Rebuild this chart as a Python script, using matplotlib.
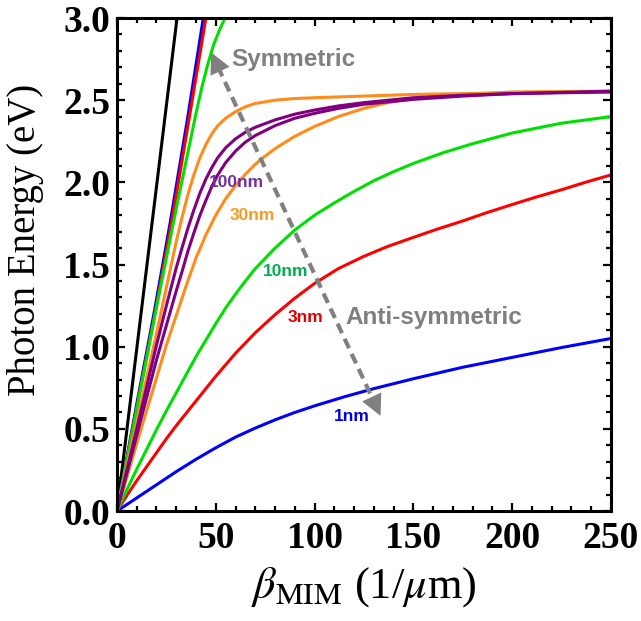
import numpy as np
import matplotlib
matplotlib.use("Agg")
from matplotlib import pyplot as plt
from matplotlib.ticker import MultipleLocator, FormatStrFormatter

#DATA
light_beta = [0, 30.4]
light_E = [0, 3.0]

# symmetric branches
s1_beta = [0, 10, 19, 27, 35.6, 39, 43.7]
s1_E = [0, 0.65, 1.22, 1.76, 2.38, 2.64, 3.0]
s3_beta = [0, 10, 19.5, 28, 36.4, 40, 45]
s3_E = [0, 0.63, 1.22, 1.78, 2.38, 2.64, 3.0]
s10_beta = [0, 10, 20, 30, 35, 40, 43, 46, 49, 52, 54.7]
s10_E = [0, 0.62, 1.24, 1.84, 2.13, 2.42, 2.58, 2.72, 2.84, 2.93, 3.0]
s30_beta = [0, 10, 20, 25, 30, 33, 36, 39, 42, 45, 48, 51, 55, 60, 65, 70, 80, 90, 100, 125, 150, 200, 250]
s30_E = [0, 0.54, 1.08, 1.36, 1.64, 1.79, 1.93, 2.05, 2.15, 2.23, 2.295, 2.345, 2.39, 2.43, 2.46, 2.48,
         2.50, 2.51, 2.515, 2.525, 2.535, 2.545, 2.55]
s100_beta = [0, 10, 20, 25, 30, 33, 36, 39, 42, 45, 48, 51, 55, 60, 65, 70, 80, 90, 100, 112, 125, 150, 175, 200, 250]
s100_E = [0, 0.50, 1.01, 1.25, 1.48, 1.605, 1.725, 1.835, 1.935, 2.02, 2.09, 2.15, 2.21, 2.265, 2.305, 2.335,
          2.38, 2.415, 2.44, 2.465, 2.485, 2.515, 2.53, 2.54, 2.555]

# anti-symmetric branches
a1_beta = [0, 10, 20, 30, 40, 50, 60, 70, 80, 90, 100, 115, 130, 150, 175, 200, 225, 250]
a1_E = [0, 0.08, 0.16, 0.24, 0.315, 0.385, 0.45, 0.505, 0.555, 0.60, 0.64, 0.695, 0.745, 0.805, 0.875,
        0.935, 0.995, 1.05]
a3_beta = [0, 5, 10, 15, 20, 25, 30, 40, 50, 60, 70, 80, 90, 100, 112, 125, 137, 150, 162, 175, 187, 200,
           212, 225, 237, 250]
a3_E = [0, 0.095, 0.185, 0.27, 0.355, 0.44, 0.52, 0.67, 0.82, 0.96, 1.085, 1.195, 1.295, 1.385, 1.475, 1.55,
        1.61, 1.665, 1.715, 1.765, 1.815, 1.865, 1.91, 1.955, 2.0, 2.045]
a10_beta = [0, 5, 10, 15, 20, 25, 30, 35, 40, 45, 50, 55, 60, 65, 70, 80, 90, 100, 110, 120, 130, 140, 150,
            165, 180, 200, 225, 250]
a10_E = [0, 0.13, 0.255, 0.375, 0.495, 0.61, 0.72, 0.83, 0.94, 1.04, 1.14, 1.235, 1.32, 1.40, 1.475, 1.60,
         1.71, 1.80, 1.875, 1.945, 2.01, 2.065, 2.115, 2.18, 2.235, 2.30, 2.36, 2.40]
a30_beta = [0, 10, 20, 25, 30, 35, 40, 45, 50, 55, 60, 65, 70, 75, 80, 90, 100, 112, 125, 137, 150, 175, 200, 250]
a30_E = [0, 0.41, 0.81, 1.01, 1.19, 1.37, 1.54, 1.68, 1.80, 1.90, 1.98, 2.05, 2.11, 2.16, 2.205, 2.28, 2.34,
         2.40, 2.45, 2.485, 2.51, 2.535, 2.55, 2.555]
a100_beta = [0, 10, 20, 25, 30, 33, 36, 39, 42, 45, 48, 51, 55, 60, 65, 70, 80, 90, 100, 112, 125, 150, 175, 200, 250]
a100_E = [0, 0.46, 0.92, 1.13, 1.34, 1.46, 1.585, 1.695, 1.80, 1.89, 1.975, 2.045, 2.12, 2.19, 2.245, 2.285,
          2.345, 2.39, 2.42, 2.45, 2.475, 2.505, 2.525, 2.54, 2.55]

gap_labels = ['100nm', '30nm', '10nm', '3nm', '1nm']

BLUE = '#0000FF'
RED = '#FF0000'
GREEN = '#00E000'
ORANGE = '#FF8C1A'
PURPLE = '#800080'

plt.rcParams['mathtext.fontset'] = 'stix'
fig = plt.figure(figsize=(6.41, 6.21), dpi=100)
ax = fig.add_axes([0.1825, 0.177, 0.7705, 0.794])

lw = 2.2
ax.plot(light_beta, light_E, color='k', lw=lw)
ax.plot(a1_beta, a1_E, color=BLUE, lw=lw)
ax.plot(s1_beta, s1_E, color=BLUE, lw=lw)
ax.plot(a3_beta, a3_E, color=RED, lw=lw)
ax.plot(s3_beta, s3_E, color=RED, lw=lw)
ax.plot(a10_beta, a10_E, color=GREEN, lw=lw)
ax.plot(s10_beta, s10_E, color=GREEN, lw=lw)
ax.plot(a30_beta, a30_E, color=ORANGE, lw=lw)
ax.plot(s30_beta, s30_E, color=ORANGE, lw=lw)
ax.plot(a100_beta, a100_E, color=PURPLE, lw=lw)
ax.plot(s100_beta, s100_E, color=PURPLE, lw=lw)

ax.set_xlim(0, 250)
ax.set_ylim(0, 3.0)

#AXES STYLE
for sp in ax.spines.values():
    sp.set_linewidth(2.2)
ax.xaxis.set_major_locator(MultipleLocator(50))
ax.xaxis.set_minor_locator(MultipleLocator(10))
ax.yaxis.set_major_locator(MultipleLocator(0.5))
ax.yaxis.set_minor_locator(MultipleLocator(0.1))
ax.tick_params(which='both', direction='in', top=True, right=True, width=1.6)
ax.tick_params(which='major', length=6)
ax.tick_params(which='minor', length=3.5)
ax.tick_params(axis='x', which='major', pad=7)
ax.tick_params(axis='y', which='major', pad=5)
ax.yaxis.set_major_formatter(FormatStrFormatter('%.1f'))
for lab in ax.get_xticklabels() + ax.get_yticklabels():
    lab.set_fontfamily('Liberation Serif')
    lab.set_fontweight('bold')
    lab.set_fontsize(27)

ax.set_xlabel(r'$\beta_{\mathrm{MIM}}$ (1/$\mu$m)', fontsize=32, family='Liberation Serif')
ax.set_ylabel('Photon Energy (eV)', fontsize=28, family='Liberation Serif')
ax.xaxis.set_label_coords(0.5, -0.11)
ax.yaxis.set_label_coords(-0.148, 0.55)

#ARROW
tip_top = (47.1, 2.806)
tip_bot = (134.0, 0.564)
d = np.array(tip_bot) - np.array(tip_top)
u = d / 87.0
ax.plot([tip_top[0] + 4 * u[0], tip_bot[0] - 4 * u[0]],
        [tip_top[1] + 4 * u[1], tip_bot[1] - 4 * u[1]],
        color='#808080', lw=3, dashes=(2.5, 1.5), solid_capstyle='butt')
ax.annotate('', xy=tip_top, xytext=(tip_top[0] + 5 * u[0], tip_top[1] + 5 * u[1]),
            arrowprops=dict(arrowstyle='-|>,head_length=0.75,head_width=0.38', color='#808080', lw=0, mutation_scale=20))
ax.annotate('', xy=tip_bot, xytext=(tip_bot[0] - 5 * u[0], tip_bot[1] - 5 * u[1]),
            arrowprops=dict(arrowstyle='-|>,head_length=0.75,head_width=0.38', color='#808080', lw=0, mutation_scale=20))

#TEXT
tkw = dict(family='Liberation Sans', fontweight='bold', ha='center', va='center')
ax.text(89.3, 2.745, 'Symmetric', color='#7F7F7F', fontsize=17.5, **tkw)
ax.text(160.4, 1.175, 'Anti-symmetric', color='#7F7F7F', fontsize=17.5, **tkw)
ax.text(60.7, 2.0, gap_labels[0], color='#7030A0', fontsize=12.5, **tkw)
ax.text(68.3, 1.80, gap_labels[1], color='#F59D1E', fontsize=12.5, **tkw)
ax.text(85.3, 1.46, gap_labels[2], color='#00B050', fontsize=12.5, **tkw)
ax.text(95.4, 1.18, gap_labels[3], color='#E00000', fontsize=12.5, **tkw)
ax.text(118.7, 0.578, gap_labels[4], color='#0000E0', fontsize=12.5, **tkw)

plt.savefig('out.png', dpi=100)
